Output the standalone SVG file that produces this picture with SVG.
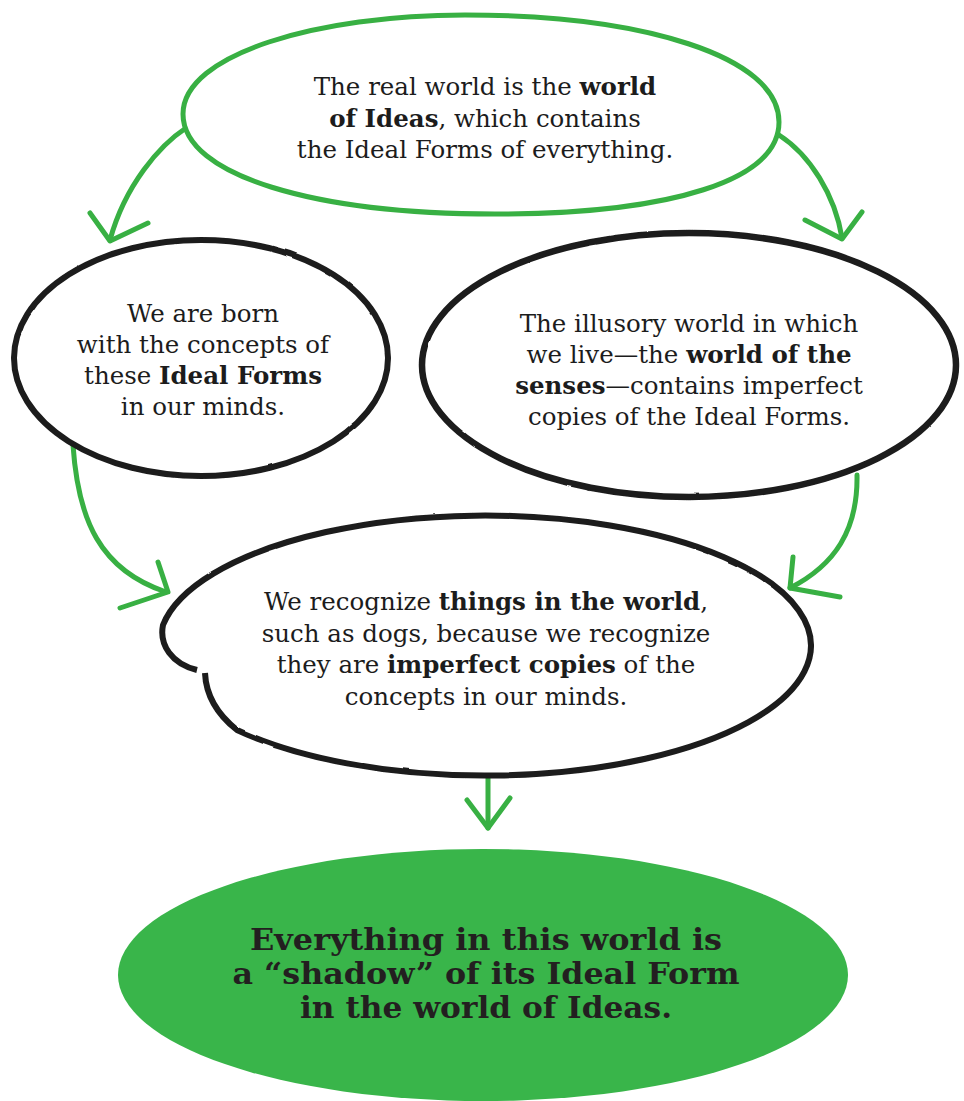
<svg xmlns="http://www.w3.org/2000/svg" width="964" height="1101" viewBox="0 0 964 1101">
  <style>
    .txt { font-family: "DejaVu Serif", "Liberation Serif", serif; font-size: 24.5px; fill: #1c1c1c; text-anchor: middle; }
    .b { font-weight: bold; }
    .big { font-family: "DejaVu Serif", "Liberation Serif", serif; font-size: 30px; font-weight: bold; fill: #231f20; text-anchor: middle; }
    .blk { fill: #ffffff; stroke: #1b1b1b; stroke-width: 6; }
    .grn { fill: #ffffff; stroke: #38b043; stroke-width: 5; }
    .arr { fill: none; stroke: #38b043; stroke-width: 5; stroke-linecap: round; stroke-linejoin: round; }
  </style>
  <defs>
    <filter id="rough" x="-5%" y="-5%" width="110%" height="110%">
      <feTurbulence type="fractalNoise" baseFrequency="0.05" numOctaves="2" seed="3" result="n"/>
      <feDisplacementMap in="SourceGraphic" in2="n" scale="1.8" xChannelSelector="R" yChannelSelector="G"/>
    </filter>
  </defs>
  <rect width="964" height="1101" fill="#ffffff"/>

  <g id="connectors">
    <path class="arr" d="M186,128 C160,145 125,185 110,240"/>
    <path class="arr" d="M90,213 L110,241 L148,223"/>
    <path class="arr" d="M779,135 C810,155 835,195 842,238"/>
    <path class="arr" d="M805,220 L842,239 L862,212"/>
    <path class="arr" d="M73,445 C78,520 100,570 166,592"/>
    <path class="arr" d="M158,562 L168,592 L120,608"/>
    <path class="arr" d="M857,475 C858,530 835,565 790,588"/>
    <path class="arr" d="M793,557 L790,588 L840,597"/>
    <path class="arr" d="M488,775 L488,828"/>
    <path class="arr" d="M467,800 L488,828 L510,798"/>
  </g>

  <g id="node-ideas">
    <path class="grn" d="M779,122 C779,180 672,214 495,214 C316,214 183,176 183,114 C183,54 318,15 465,15 C642,15 779,56 779,122 Z"/>
    <text class="txt" x="485" y="95">The real world is the <tspan class="b">world</tspan></text>
    <text class="txt" x="485" y="127"><tspan class="b">of Ideas</tspan>, which contains</text>
    <text class="txt" x="485" y="158">the Ideal Forms of everything.</text>
  </g>

  <g id="node-born">
    <ellipse class="blk" cx="201" cy="358" rx="187" ry="118" filter="url(#rough)"/>
    <text class="txt" x="203" y="322">We are born</text>
    <text class="txt" x="203" y="353">with the concepts of</text>
    <text class="txt" x="203" y="384">these <tspan class="b">Ideal Forms</tspan></text>
    <text class="txt" x="203" y="415">in our minds.</text>
  </g>

  <g id="node-senses">
    <ellipse class="blk" cx="689" cy="365" rx="267" ry="132" style="stroke-width:6.5" filter="url(#rough)"/>
    <text class="txt" x="689" y="332">The illusory world in which</text>
    <text class="txt" x="689" y="363">we live—the <tspan class="b">world of the</tspan></text>
    <text class="txt" x="689" y="394"><tspan class="b">senses</tspan>—contains imperfect</text>
    <text class="txt" x="689" y="425">copies of the Ideal Forms.</text>
  </g>

  <g id="node-recognize">
    <path class="blk" filter="url(#rough)" d="M205,673 C206,695 218,715 237,730 A326 130 0 1 0 163,625 C159,645 172,664 197,670"/>
    <text class="txt" x="486" y="610">We recognize <tspan class="b">things in the world</tspan>,</text>
    <text class="txt" x="486" y="642">such as dogs, because we recognize</text>
    <text class="txt" x="486" y="673">they are <tspan class="b">imperfect copies</tspan> of the</text>
    <text class="txt" x="486" y="705">concepts in our minds.</text>
  </g>

  <g id="node-shadow">
    <ellipse cx="483" cy="975" rx="365" ry="126" fill="#39b54a"/>
    <text class="big" x="486" y="950" textLength="472" lengthAdjust="spacingAndGlyphs">Everything in this world is</text>
    <text class="big" x="486" y="984" textLength="507" lengthAdjust="spacingAndGlyphs">a “shadow” of its Ideal Form</text>
    <text class="big" x="486" y="1018" textLength="372" lengthAdjust="spacingAndGlyphs">in the world of Ideas.</text>
  </g>
</svg>
